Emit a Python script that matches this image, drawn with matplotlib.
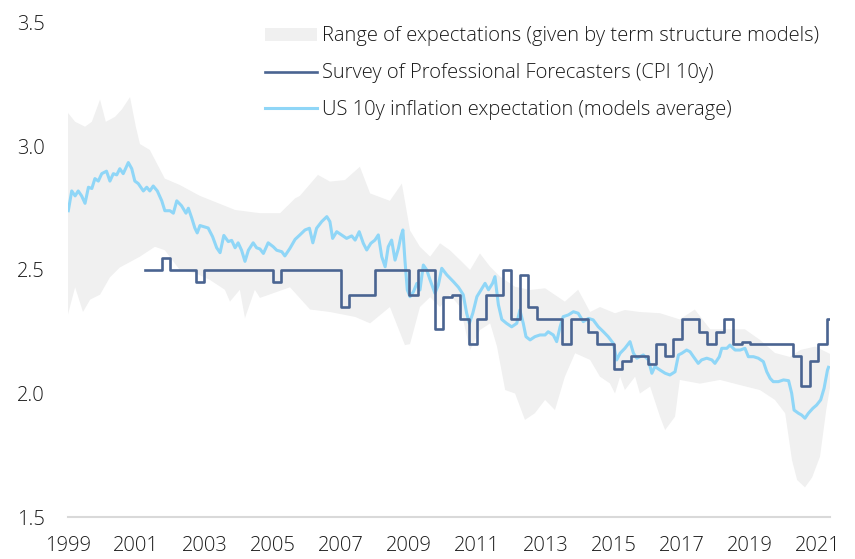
import numpy as np
import matplotlib
matplotlib.use("Agg")
import matplotlib.pyplot as plt
from matplotlib.patches import Patch
from matplotlib.lines import Line2D

plt.rcParams['font.family'] = ['Open Sans', 'DejaVu Sans']
plt.rcParams['font.weight'] = 'light'

# rango de expectativas (modelos de estructura temporal), borde superior e inferior
banda_sup_t = [1999.00, 1999.21, 1999.50, 1999.70, 1999.94, 2000.11, 2000.38, 2000.58, 2000.82, 2000.99,
               2001.11, 2001.40, 2001.84, 2002.28, 2002.87, 2003.90, 2004.63, 2005.22, 2005.66, 2005.80,
               2006.33, 2006.68, 2007.12, 2007.56, 2007.86, 2008.44, 2008.79, 2009.03, 2009.32, 2009.62,
               2009.91, 2010.20, 2010.50, 2010.79, 2011.08, 2011.38, 2011.67, 2012.11, 2012.55, 2012.99,
               2013.28, 2013.57, 2013.96, 2014.31, 2014.60, 2015.04, 2015.33, 2015.77, 2016.36, 2016.94,
               2017.38, 2017.83, 2018.41, 2018.85, 2019.29, 2019.73, 2020.17, 2020.47, 2020.91, 2021.35]
banda_sup = [3.136, 3.10, 3.08, 3.10, 3.19, 3.10, 3.12, 3.15, 3.20, 3.08,
             3.01, 2.986, 2.87, 2.844, 2.80, 2.743, 2.73, 2.73, 2.79, 2.80,
             2.885, 2.858, 2.864, 2.918, 2.81, 2.78, 2.85, 2.66, 2.594, 2.554,
             2.608, 2.58, 2.54, 2.50, 2.567, 2.513, 2.473, 2.432, 2.419, 2.426,
             2.399, 2.372, 2.42, 2.33, 2.35, 2.325, 2.338, 2.33, 2.325, 2.30,
             2.34, 2.26, 2.26, 2.26, 2.217, 2.164, 2.148, 2.176, 2.19, 2.16]

banda_inf_t = [1999.00, 1999.21, 1999.44, 1999.65, 1999.94, 2000.23, 2000.52, 2001.11, 2001.55, 2001.84,
               2002.28, 2002.72, 2003.16, 2003.60, 2003.75, 2004.04, 2004.19, 2004.48, 2004.63, 2005.51,
               2006.10, 2006.68, 2007.42, 2007.86, 2008.44, 2008.88, 2009.03, 2009.32, 2009.62, 2009.91,
               2010.20, 2010.50, 2010.79, 2011.08, 2011.38, 2011.58, 2011.82, 2012.11, 2012.40, 2012.69,
               2012.99, 2013.28, 2013.57, 2013.87, 2014.31, 2014.60, 2014.89, 2015.04, 2015.19, 2015.33,
               2015.63, 2015.77, 2016.07, 2016.36, 2016.51, 2016.80, 2016.94, 2017.53, 2018.12, 2018.71,
               2019.29, 2019.73, 2020.03, 2020.23, 2020.38, 2020.61, 2020.82, 2021.05, 2021.23, 2021.35]
banda_inf = [2.32, 2.43, 2.33, 2.38, 2.40, 2.47, 2.51, 2.554, 2.594, 2.58,
             2.50, 2.488, 2.46, 2.42, 2.372, 2.42, 2.305, 2.42, 2.387, 2.43,
             2.34, 2.33, 2.31, 2.284, 2.35, 2.196, 2.20, 2.35, 2.39, 2.35,
             2.40, 2.35, 2.176, 2.257, 2.284, 2.19, 2.014, 2.00, 1.893, 1.92,
             1.974, 1.933, 2.068, 2.163, 2.136, 2.068, 2.041, 2.00, 2.068, 2.014,
             2.068, 2.00, 2.028, 1.906, 1.852, 1.906, 2.055, 2.04, 2.055, 2.034,
             2.014, 1.974, 1.92, 1.73, 1.65, 1.62, 1.66, 1.744, 1.93, 2.03]

# Survey of Professional Forecasters (CPI 10y), cambios de nivel trimestrales
spf_t = [2001.25, 2001.75, 2002.00, 2002.75, 2003.00, 2005.00, 2005.25, 2007.00, 2007.25, 2008.00,
         2009.00, 2009.25, 2009.75, 2010.00, 2010.25, 2010.50, 2010.75, 2011.00, 2011.25, 2011.75,
         2012.00, 2012.25, 2012.50, 2012.75, 2013.50, 2013.75, 2014.25, 2014.50, 2015.00, 2015.25,
         2015.50, 2016.00, 2016.25, 2016.50, 2016.75, 2017.00, 2017.50, 2017.75, 2018.00, 2018.25,
         2018.50, 2018.75, 2019.00, 2020.25, 2020.50, 2020.75, 2021.00, 2021.25, 2021.35]
spf = [2.50, 2.55, 2.50, 2.45, 2.50, 2.45, 2.50, 2.35, 2.40, 2.50,
       2.40, 2.50, 2.26, 2.39, 2.40, 2.30, 2.20, 2.30, 2.40, 2.50,
       2.30, 2.48, 2.35, 2.30, 2.20, 2.30, 2.25, 2.20, 2.10, 2.13,
       2.15, 2.12, 2.20, 2.15, 2.22, 2.30, 2.25, 2.20, 2.25, 2.30,
       2.20, 2.21, 2.20, 2.15, 2.03, 2.13, 2.20, 2.30, 2.30]

# expectativa de inflacion 10y EEUU (promedio de modelos)
prom_t = [1999.01, 1999.11, 1999.21, 1999.30, 1999.40, 1999.50, 1999.60, 1999.70, 1999.79, 1999.89,
          1999.99, 2000.13, 2000.23, 2000.33, 2000.43, 2000.52, 2000.62, 2000.77, 2000.87, 2000.96,
          2001.06, 2001.21, 2001.31, 2001.40, 2001.50, 2001.62, 2001.75, 2001.84, 2001.99, 2002.09,
          2002.19, 2002.33, 2002.46, 2002.53, 2002.63, 2002.72, 2002.79, 2002.87, 2002.99, 2003.11,
          2003.24, 2003.36, 2003.46, 2003.57, 2003.70, 2003.80, 2003.90, 2003.99, 2004.09, 2004.19,
          2004.29, 2004.43, 2004.53, 2004.63, 2004.73, 2004.87, 2005.02, 2005.12, 2005.27, 2005.36,
          2005.51, 2005.66, 2005.80, 2005.95, 2006.08, 2006.18, 2006.29, 2006.44, 2006.59, 2006.68,
          2006.76, 2006.88, 2007.02, 2007.17, 2007.32, 2007.42, 2007.54, 2007.66, 2007.76, 2007.88,
          2008.00, 2008.10, 2008.20, 2008.30, 2008.39, 2008.49, 2008.59, 2008.69, 2008.76, 2008.82,
          2008.88, 2008.95, 2009.03, 2009.13, 2009.23, 2009.32, 2009.42, 2009.52, 2009.62, 2009.76,
          2009.86, 2009.96, 2010.11, 2010.30, 2010.45, 2010.59, 2010.69, 2010.77, 2010.87, 2010.99,
          2011.08, 2011.23, 2011.33, 2011.45, 2011.52, 2011.62, 2011.72, 2011.86, 2012.01, 2012.16,
          2012.25, 2012.35, 2012.43, 2012.55, 2012.69, 2012.84, 2012.99, 2013.08, 2013.23, 2013.33,
          2013.43, 2013.52, 2013.67, 2013.82, 2013.96, 2014.11, 2014.26, 2014.40, 2014.55, 2014.70,
          2014.84, 2014.99, 2015.09, 2015.19, 2015.33, 2015.48, 2015.58, 2015.68, 2015.77, 2015.87,
          2016.02, 2016.12, 2016.21, 2016.36, 2016.51, 2016.65, 2016.80, 2016.90, 2017.00, 2017.14,
          2017.24, 2017.34, 2017.48, 2017.58, 2017.73, 2017.88, 2017.97, 2018.10, 2018.17, 2018.32,
          2018.41, 2018.56, 2018.71, 2018.85, 2018.95, 2019.10, 2019.24, 2019.39, 2019.49, 2019.59,
          2019.68, 2019.83, 2019.98, 2020.13, 2020.22, 2020.29, 2020.42, 2020.51, 2020.61, 2020.71,
          2020.84, 2020.95, 2021.07, 2021.17, 2021.27, 2021.30]
prom = [2.74, 2.82, 2.80, 2.82, 2.80, 2.77, 2.835, 2.83, 2.87, 2.86,
        2.89, 2.90, 2.86, 2.89, 2.885, 2.91, 2.89, 2.935, 2.91, 2.86,
        2.85, 2.82, 2.835, 2.82, 2.84, 2.82, 2.78, 2.74, 2.74, 2.73,
        2.78, 2.76, 2.73, 2.75, 2.71, 2.67, 2.65, 2.68, 2.675, 2.67,
        2.635, 2.59, 2.57, 2.64, 2.615, 2.62, 2.59, 2.61, 2.58, 2.535,
        2.58, 2.61, 2.59, 2.585, 2.567, 2.61, 2.594, 2.58, 2.574, 2.557,
        2.588, 2.624, 2.642, 2.662, 2.669, 2.61, 2.669, 2.696, 2.716, 2.696,
        2.628, 2.655, 2.642, 2.628, 2.638, 2.621, 2.655, 2.608, 2.581, 2.608,
        2.621, 2.642, 2.554, 2.513, 2.594, 2.621, 2.54, 2.588, 2.635, 2.662,
        2.54, 2.419, 2.392, 2.412, 2.446, 2.419, 2.52, 2.50, 2.459, 2.406,
        2.439, 2.507, 2.48, 2.453, 2.43, 2.40, 2.325, 2.284, 2.325, 2.392,
        2.412, 2.446, 2.42, 2.446, 2.473, 2.36, 2.30, 2.284, 2.27, 2.284,
        2.338, 2.284, 2.23, 2.217, 2.23, 2.237, 2.237, 2.25, 2.237, 2.21,
        2.27, 2.311, 2.318, 2.331, 2.325, 2.291, 2.304, 2.298, 2.27, 2.25,
        2.23, 2.203, 2.136, 2.163, 2.183, 2.21, 2.163, 2.143, 2.149, 2.156,
        2.136, 2.082, 2.109, 2.095, 2.082, 2.075, 2.088, 2.156, 2.163, 2.176,
        2.169, 2.149, 2.122, 2.136, 2.143, 2.136, 2.122, 2.149, 2.183, 2.183,
        2.196, 2.176, 2.176, 2.183, 2.149, 2.149, 2.143, 2.129, 2.088, 2.061,
        2.048, 2.048, 2.055, 2.052, 2.001, 1.933, 1.92, 1.913, 1.90, 1.92,
        1.94, 1.953, 1.974, 2.021, 2.095, 2.106]

anios = [1999, 2001, 2003, 2005, 2007, 2009, 2011, 2013, 2015, 2017, 2019, 2021]
yticks = [1.5, 2.0, 2.5, 3.0, 3.5]

c_banda = "#f0f0f0"
c_spf = "#4a6491"
c_prom = "#8fd6f7"
c_txt = "#1a1a1a"

fig = plt.figure(figsize=(8.55, 5.59), dpi=100)
ax = fig.add_axes([0.0795, 0.0751, 0.8915, 0.8838])

ax.fill(np.r_[banda_sup_t, banda_inf_t[::-1]], np.r_[banda_sup, banda_inf[::-1]],
        color=c_banda, lw=0, zorder=1)
ax.step(spf_t, spf, where="post", color=c_spf, lw=1.9, zorder=3)
ax.plot(prom_t, prom, color=c_prom, lw=2.2, zorder=2)

ax.set_xlim(1999, 2021.35)
ax.set_ylim(1.5, 3.5)
ax.set_xticks(anios)
ax.set_xticklabels([str(a) for a in anios])
ax.set_yticks(yticks)
ax.set_yticklabels(["%.1f" % v for v in yticks])
ax.tick_params(axis="both", length=0, labelsize=14.5, colors=c_txt)
ax.tick_params(axis="y", pad=16.5)
ax.tick_params(axis="x", pad=14)
for s in ["top", "right", "left"]:
    ax.spines[s].set_visible(False)
ax.spines["bottom"].set_color("#d9d9d9")
ax.spines["bottom"].set_linewidth(1.5)

handles = [Patch(facecolor=c_banda, edgecolor="none"),
           Line2D([], [], color=c_spf, lw=1.9),
           Line2D([], [], color=c_prom, lw=2.2)]
labels = ["Range of expectations (given by term structure models)",
          "Survey of Professional Forecasters (CPI 10y)",
          "US 10y inflation expectation (models average)"]
leg = fig.legend(handles, labels, loc="upper left", bbox_to_anchor=(0.293, 0.978),
                 frameon=False, fontsize=14.5, handlelength=2.58, handleheight=0.6,
                 handletextpad=0.25, labelspacing=0.84, borderaxespad=0.3)
for t in leg.get_texts():
    t.set_color(c_txt)

plt.savefig("out.png", dpi=100)
